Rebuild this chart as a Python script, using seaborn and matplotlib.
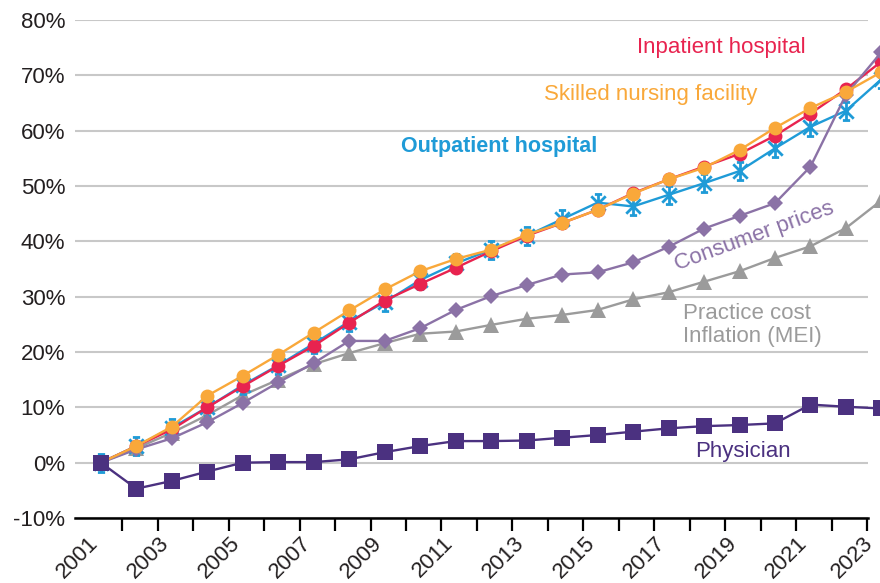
import numpy as np
import pandas as pd
import matplotlib
matplotlib.use("Agg")
import matplotlib.pyplot as plt
from matplotlib.path import Path
from matplotlib.transforms import ScaledTranslation
import seaborn as sns

# Cumulative change since 2001 (%)
years = list(range(2001, 2024))
inpatient = [0, 3.0, 6.0, 10.0, 13.8, 17.5, 21.1, 25.3, 29.3, 32.3, 35.2, 38.2, 41.0,
             43.3, 45.7, 48.7, 51.2, 53.5, 55.8, 59.1, 63.1, 67.5, 72.5]
skilled = [0, 3.0, 6.5, 12.1, 15.7, 19.5, 23.5, 27.5, 31.3, 34.6, 36.8, 38.5, 41.2,
           43.3, 45.7, 48.6, 51.2, 53.3, 56.5, 60.5, 64.1, 67.0, 70.6]
outpatient = [0, 3.0, 6.3, 10.0, 14.0, 17.6, 21.5, 25.5, 29.0, 33.0, 36.0, 38.5, 41.0,
              44.0, 47.0, 46.3, 48.4, 50.5, 52.7, 56.8, 60.7, 63.6, 69.3]
consumer = [0, 2.4, 4.4, 7.3, 10.8, 14.5, 18.0, 22.0, 22.0, 24.3, 27.6, 30.1, 32.1,
            34.0, 34.4, 36.2, 39.0, 42.3, 44.6, 46.9, 53.5, 66.5, 74.2]
mei = [0, 2.6, 5.4, 8.6, 12.2, 15.0, 17.8, 19.8, 21.6, 23.3, 23.7, 24.9, 26.0,
       26.7, 27.6, 29.5, 30.8, 32.7, 34.6, 37.0, 39.1, 42.4, 47.4]
physician = [0, -4.7, -3.3, -1.6, 0, 0.1, 0.1, 0.6, 1.9, 3.0, 3.9, 3.9, 4.0,
             4.5, 5.0, 5.6, 6.2, 6.6, 6.8, 7.1, 10.5, 10.1, 9.8]

y_ticks = [-10, 0, 10, 20, 30, 40, 50, 60, 70, 80]
label_years = list(range(2001, 2024, 2))

sns.set_theme(style="white")
plt.rcParams['font.family'] = ['Liberation Sans', 'DejaVu Sans']

fig = plt.figure(figsize=(8.8, 5.83), dpi=100)
ax = fig.add_axes([0.0852, 0.1115, 0.9011, 0.8542])

# Excel-like "star" marker: asterisk with short bars top and bottom
star = Path([(0, -1), (0, 1), (-0.8, -0.8), (0.8, 0.8), (-0.8, 0.8), (0.8, -0.8),
             (-0.4, 1), (0.4, 1), (-0.4, -1), (0.4, -1)],
            [Path.MOVETO, Path.LINETO] * 5)

red = "#E8234F"
orange = "#F9A83A"
blue = "#1F9BD7"
purple = "#8B72A6"
gray = "#9B9B9B"
dark = "#4B3180"
ink = "#231F20"

series = [
    (mei, gray, "^", 11),
    (outpatient, blue, star, 13),
    (inpatient, red, "o", 10),
    (consumer, purple, "D", 8.5),
    (skilled, orange, "o", 10),
    (physician, dark, "s", 12),
]
for vals, color, marker, ms in series:
    if marker is star:
        kw = dict(markerfacecolor="none", markeredgecolor=color, markeredgewidth=2)
    else:
        kw = dict(markeredgewidth=0)
    sns.lineplot(x=years, y=vals, ax=ax, color=color, marker=marker, markersize=ms,
                 linewidth=1.7, clip_on=False, **kw)

ax.set_axisbelow(True)
ax.yaxis.grid(True, color="#C8C8C8", linewidth=1.5)
ax.xaxis.grid(False)

ax.set_yticks(y_ticks)
ax.set_yticklabels([f"{v}%" for v in y_ticks])
ax.tick_params(axis='y', length=0, pad=7, labelsize=16, labelcolor=ink)

# the last year sits past the right end of the axis, so its label is added by hand below
ax.set_xticks(label_years[:-1])
ax.set_xticklabels([str(y) for y in label_years[:-1]], rotation=45, ha='right',
                   va='center', rotation_mode='anchor')
ax.set_xticks(np.arange(2001.6, 2023, 1), minor=True)
ax.tick_params(axis='x', which='major', length=0, pad=16, labelsize=16, labelcolor=ink)
ax.tick_params(axis='x', which='minor', length=9, width=1.6, color='black',
               direction='out', bottom=True)
shift = ScaledTranslation(-0.06, 0, fig.dpi_scale_trans)
for lab in ax.get_xticklabels():
    lab.set_transform(lab.get_transform() + shift)
ax.annotate(str(label_years[-1]), xy=(label_years[-1], 0), xycoords=('data', 'axes fraction'),
            xytext=(-8, -16), textcoords='offset points', rotation=45,
            ha='right', va='center', rotation_mode='anchor', fontsize=16, color=ink,
            annotation_clip=False)

# limits last, so set_xticks cannot widen them
ax.set_xlim(2000.27, 2022.62)
ax.set_ylim(-10, 80)

for s in ['left', 'right', 'top']:
    ax.spines[s].set_visible(False)
ax.spines['bottom'].set_color('black')
ax.spines['bottom'].set_linewidth(1.8)

ax.text(2018.48, 75.1, "Inpatient hospital", color=red, fontsize=16, ha='center', va='center')
ax.text(2016.50, 66.6, "Skilled nursing facility", color=orange, fontsize=16,
        ha='center', va='center')
ax.text(2012.22, 57.2, "Outpatient hospital", color=blue, fontsize=15.5, fontweight='bold',
        ha='center', va='center')
ax.text(2019.41, 40.8, "Consumer prices", color=purple, fontsize=16, rotation=20,
        ha='center', va='center', rotation_mode='anchor')
ax.text(2017.41, 24.9, "Practice cost\nInflation (MEI)", color=gray, fontsize=16,
        ha='left', va='center', linespacing=1.1)
ax.text(2019.10, 2.1, "Physician", color=dark, fontsize=16, ha='center', va='center')

ax.set_xlabel("")
ax.set_ylabel("")
fig.savefig("out.png", dpi=100)
